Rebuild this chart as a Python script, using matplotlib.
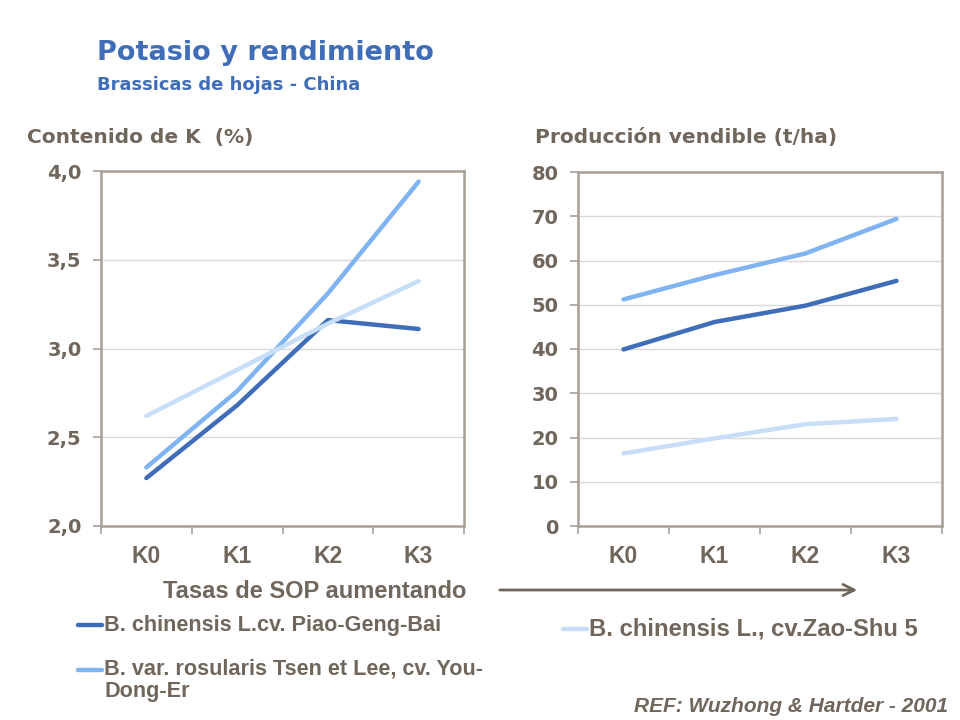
import matplotlib
matplotlib.use('Agg')
import matplotlib.pyplot as plt
from matplotlib.patches import FancyArrowPatch

plt.rcParams['font.family'] = ['Liberation Sans', 'DejaVu Sans']

# data
cats = ['K0', 'K1', 'K2', 'K3']
names = ['B. chinensis L.cv. Piao-Geng-Bai',
         'B. var. rosularis Tsen et Lee, cv. You-\nDong-Er',
         'B. chinensis L., cv.Zao-Shu 5']
k_content = {
    names[0]: [2.27, 2.68, 3.16, 3.11],
    names[1]: [2.33, 2.76, 3.31, 3.94],
    names[2]: [2.62, 2.88, 3.14, 3.38],
}
yield_tha = {
    names[0]: [39.9, 46.1, 49.8, 55.4],
    names[1]: [51.2, 56.7, 61.6, 69.4],
    names[2]: [16.4, 19.8, 23.0, 24.2],
}
k_ticks = [2.0, 2.5, 3.0, 3.5, 4.0]
k_ticklabels = ['2,0', '2,5', '3,0', '3,5', '4,0']
y_ticks = [0, 10, 20, 30, 40, 50, 60, 70, 80]

colors = ['#3F6DB7', '#80B3F1', '#C7DEF8']
txt = '#70665B'
spine_c = '#A8A097'
blue_t = '#3F6DB7'
wide = ['DejaVu Sans']

fig = plt.figure(figsize=(9.6, 7.2), dpi=100)
W, H = 960, 720

def px_axes(x0, y0, x1, y1):
    return fig.add_axes([x0 / W, 1 - y1 / H, (x1 - x0) / W, (y1 - y0) / H])

def style(ax, ticks, ticklabels, lim):
    ax.set_xlim(-0.5, 3.5)
    ax.set_ylim(*lim)
    ax.set_yticks(ticks)
    ax.set_yticklabels(ticklabels)
    ax.set_xticks([-0.5, 0.5, 1.5, 2.5, 3.5])
    ax.set_xticklabels([])
    ax.set_xticks(range(4), minor=True)
    ax.set_xticklabels(cats, minor=True)
    ax.tick_params(axis='x', which='major', direction='out', length=6, width=1.2, color=spine_c)
    ax.tick_params(axis='x', which='minor', length=0, pad=14, labelsize=16.5, labelcolor=txt)
    ax.tick_params(axis='y', direction='out', length=6, width=1.2, color=spine_c,
                   labelsize=14, labelcolor=txt, pad=8)
    for lbl in ax.get_xticklabels(minor=True):
        lbl.set_fontweight('bold')
    for lbl in ax.get_yticklabels():
        lbl.set_fontweight('bold')
        lbl.set_family(wide)
    for s in ax.spines.values():
        s.set_color(spine_c)
        s.set_linewidth(1.8)
    ax.grid(axis='y', color='#D9D9D9', linewidth=1)
    ax.set_axisbelow(True)

ax1 = px_axes(101, 171, 464, 526)
for n, c in zip(names, colors):
    ax1.plot(range(4), k_content[n], color=c, lw=3.2, solid_capstyle='round', solid_joinstyle='round')
style(ax1, k_ticks, k_ticklabels, (2.0, 4.0))

ax2 = px_axes(578, 172, 942, 526)
for n, c in zip(names, colors):
    ax2.plot(range(4), yield_tha[n], color=c, lw=3.2, solid_capstyle='round', solid_joinstyle='round')
style(ax2, y_ticks, [str(v) for v in y_ticks], (0, 80))

# titles
fig.text(97 / W, 1 - 53 / H, 'Potasio y rendimiento', color=blue_t, fontsize=19.5,
         fontweight='bold', va='center', family=wide)
fig.text(97 / W, 1 - 85 / H, 'Brassicas de hojas - China', color=blue_t, fontsize=13,
         fontweight='bold', va='center', family=wide)
fig.text(27 / W, 1 - 138 / H, 'Contenido de K  (%)', color=txt, fontsize=14.5,
         fontweight='bold', va='center', family=wide)
fig.text(535 / W, 1 - 138 / H, 'Producción vendible (t/ha)', color=txt, fontsize=14.5,
         fontweight='bold', va='center', family=wide)

fig.text(163 / W, 1 - 591 / H, 'Tasas de SOP aumentando', color=txt, fontsize=17,
         fontweight='bold', va='center')
fig.patches.append(FancyArrowPatch((497 / W, 1 - 590 / H), (860 / W, 1 - 590 / H),
                                   transform=fig.transFigure, arrowstyle='->,head_length=8,head_width=4',
                                   color=txt, lw=2, mutation_scale=1))

# legend entries
leg = [(78, 625, 0, 15.6), (78, 670, 1, 15.6), (563, 629, 2, 17.2)]
for x, y, i, fs in leg:
    fig.add_artist(plt.Line2D([x / W, (x + 24) / W], [1 - y / H, 1 - y / H], color=colors[i],
                              lw=3.2, solid_capstyle='round', transform=fig.transFigure))
    if i == 1:
        fig.text((x + 26) / W, 1 - (y - 12) / H, names[i], color=txt, fontsize=fs,
                 fontweight='bold', va='top', linespacing=1.15)
    else:
        fig.text((x + 26) / W, 1 - y / H, names[i], color=txt, fontsize=fs,
                 fontweight='bold', va='center')

fig.text(948 / W, 1 - 706 / H, 'REF: Wuzhong & Hartder - 2001', color=txt, fontsize=15,
         fontweight='bold', style='italic', ha='right', va='center')

fig.savefig('out.png', dpi=100)
